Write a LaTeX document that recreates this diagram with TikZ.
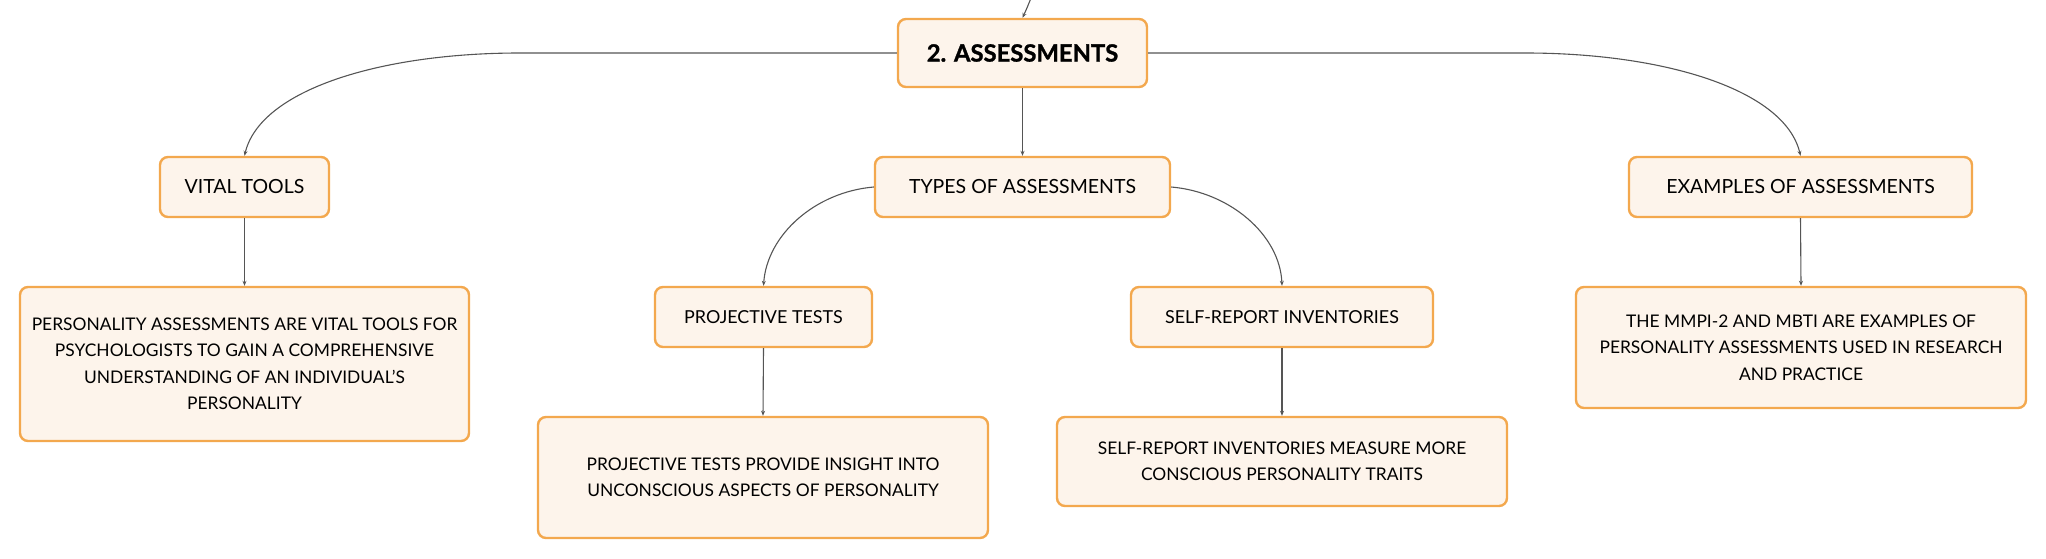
\documentclass[tikz,border=0pt]{standalone}
\usepackage{fontspec}
\setmainfont{Lato}
\newfontfamily\titlefont{Lato}[BoldFeatures={FakeBold=1.2}]
\usetikzlibrary{arrows.meta}
\definecolor{boxfill}{RGB}{253,244,235}
\definecolor{boxline}{RGB}{243,168,78}
\definecolor{conn}{RGB}{85,85,85}
\begin{document}
\begin{tikzpicture}[x=1pt,y=-1pt,
  box/.style={draw=boxline,fill=boxfill,line width=2.4pt,rounded corners=8pt,
    inner sep=0pt,align=center,text=black},
  lvltwo/.style={box,font=\fontsize{19.5}{23}\selectfont},
  lvlthree/.style={box,font=\fontsize{17.9}{21}\selectfont},
  bodytxt/.style={box,font=\fontsize{17.4}{26.5}\selectfont},
  conn/.style={draw=conn,line width=1.1pt,-{Stealth[length=5pt,width=4pt]}}]
\useasboundingbox (0,0) rectangle (2046,559);
\node[box,font=\fontsize{23.8}{28}\selectfont\titlefont\bfseries,minimum width=249pt,minimum height=68pt] (main) at (1022.5,53) {2. ASSESSMENTS};
\node[lvltwo,minimum width=169pt,minimum height=60pt] (vital) at (244.5,187) {VITAL TOOLS};
\node[lvltwo,minimum width=295pt,minimum height=60pt] (types) at (1022.5,187) {TYPES OF ASSESSMENTS};
\node[lvltwo,minimum width=343pt,minimum height=60pt] (examples) at (1800.5,187) {EXAMPLES OF ASSESSMENTS};
\node[lvlthree,minimum width=217pt,minimum height=60pt] (proj) at (763.5,317) {PROJECTIVE TESTS};
\node[lvlthree,minimum width=302pt,minimum height=60pt] (self) at (1282,317) {SELF-REPORT INVENTORIES};
\node[bodytxt,minimum width=449pt,minimum height=154pt] (vitaltxt) at (244.5,364) {PERSONALITY ASSESSMENTS ARE VITAL TOOLS FOR\\PSYCHOLOGISTS TO GAIN A COMPREHENSIVE\\UNDERSTANDING OF AN INDIVIDUAL'S\\PERSONALITY};
\node[bodytxt,minimum width=450pt,minimum height=121pt] (projtxt) at (763,477.5) {PROJECTIVE TESTS PROVIDE INSIGHT INTO\\UNCONSCIOUS ASPECTS OF PERSONALITY};
\node[bodytxt,minimum width=450pt,minimum height=89pt] (selftxt) at (1282,461.5) {SELF-REPORT INVENTORIES MEASURE MORE\\CONSCIOUS PERSONALITY TRAITS};
\node[bodytxt,minimum width=450pt,minimum height=121pt] (extxt) at (1801,347.5) {THE MMPI-2 AND MBTI ARE EXAMPLES OF\\PERSONALITY ASSESSMENTS USED IN RESEARCH\\AND PRACTICE};
\coordinate (topin) at (1031,-2);
\draw[conn] (topin) .. controls (1027,8) .. (main.north);
\draw[conn] (main.south) -- (types.north);
\draw[conn] (main.west) -- (520,53) .. controls (380,53) and (260,90) .. (vital.north);
\draw[conn] (main.east) -- (1525,53) .. controls (1665,53) and (1785,90) .. (examples.north);
\draw[conn] (types.west) .. controls (815,192) and (767,235) .. (proj.north);
\draw[conn] (types.east) .. controls (1230,192) and (1280,235) .. (self.north);
\draw[conn] (vital.south) -- (vitaltxt.north);
\draw[conn] (proj.south) -- (projtxt.north);
\draw[conn] (self.south) -- (selftxt.north);
\draw[conn] (examples.south) -- (extxt.north);
\end{tikzpicture}
\end{document}
